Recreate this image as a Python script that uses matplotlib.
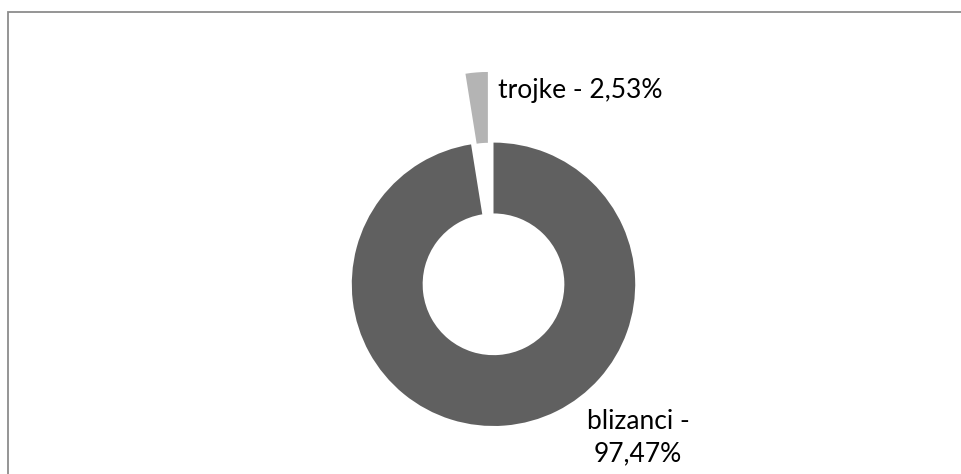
import matplotlib
matplotlib.use("Agg")
import matplotlib.pyplot as plt
from matplotlib.patches import Rectangle

# Share of multiple births by type
categories = ["blizanci", "trojke"]
shares = [97.47, 2.53]
colors = ["#606060", "#b4b4b4"]
explode = [0.0, 0.5]

W, H, DPI = 961, 474, 100
fig = plt.figure(figsize=(W / DPI, H / DPI), dpi=DPI)
fig.patch.set_facecolor("white")

# chart frame (open on the right and bottom edges)
fig.patches.append(Rectangle((7.5 / W, -0.1), 1.2, (H - 12.5) / H + 0.1,
                             transform=fig.transFigure, fill=False,
                             edgecolor="#8c8c8c", linewidth=1.3))

ax = fig.add_axes([0, 0, 1, 1])
cx, cy, R = 493.5, 284.3, 141.7   # pixel centre and outer radius

ax.pie(shares, colors=colors, explode=explode, startangle=90,
       counterclock=False, radius=1.0,
       wedgeprops=dict(width=0.5, linewidth=0))

ax.set_aspect("auto")
ax.set_xlim(-cx / R, (W - cx) / R)
ax.set_ylim(-(H - cy) / R, cy / R)
ax.axis("off")

def fmt(v):
    return f"{v:.2f}".replace(".", ",") + "%"

font = ["Lato", "DejaVu Sans"]
ax.text(0.032, 1.371, f"{categories[1]} - {fmt(shares[1])}",
        ha="left", va="center", fontsize=19, family=font, color="black")
ax.text(1.02, -1.08, f"{categories[0]} -\n{fmt(shares[0])}",
        ha="center", va="center", fontsize=19, family=font, color="black",
        linespacing=1.38)

fig.savefig("out.png", dpi=DPI, facecolor="white")
